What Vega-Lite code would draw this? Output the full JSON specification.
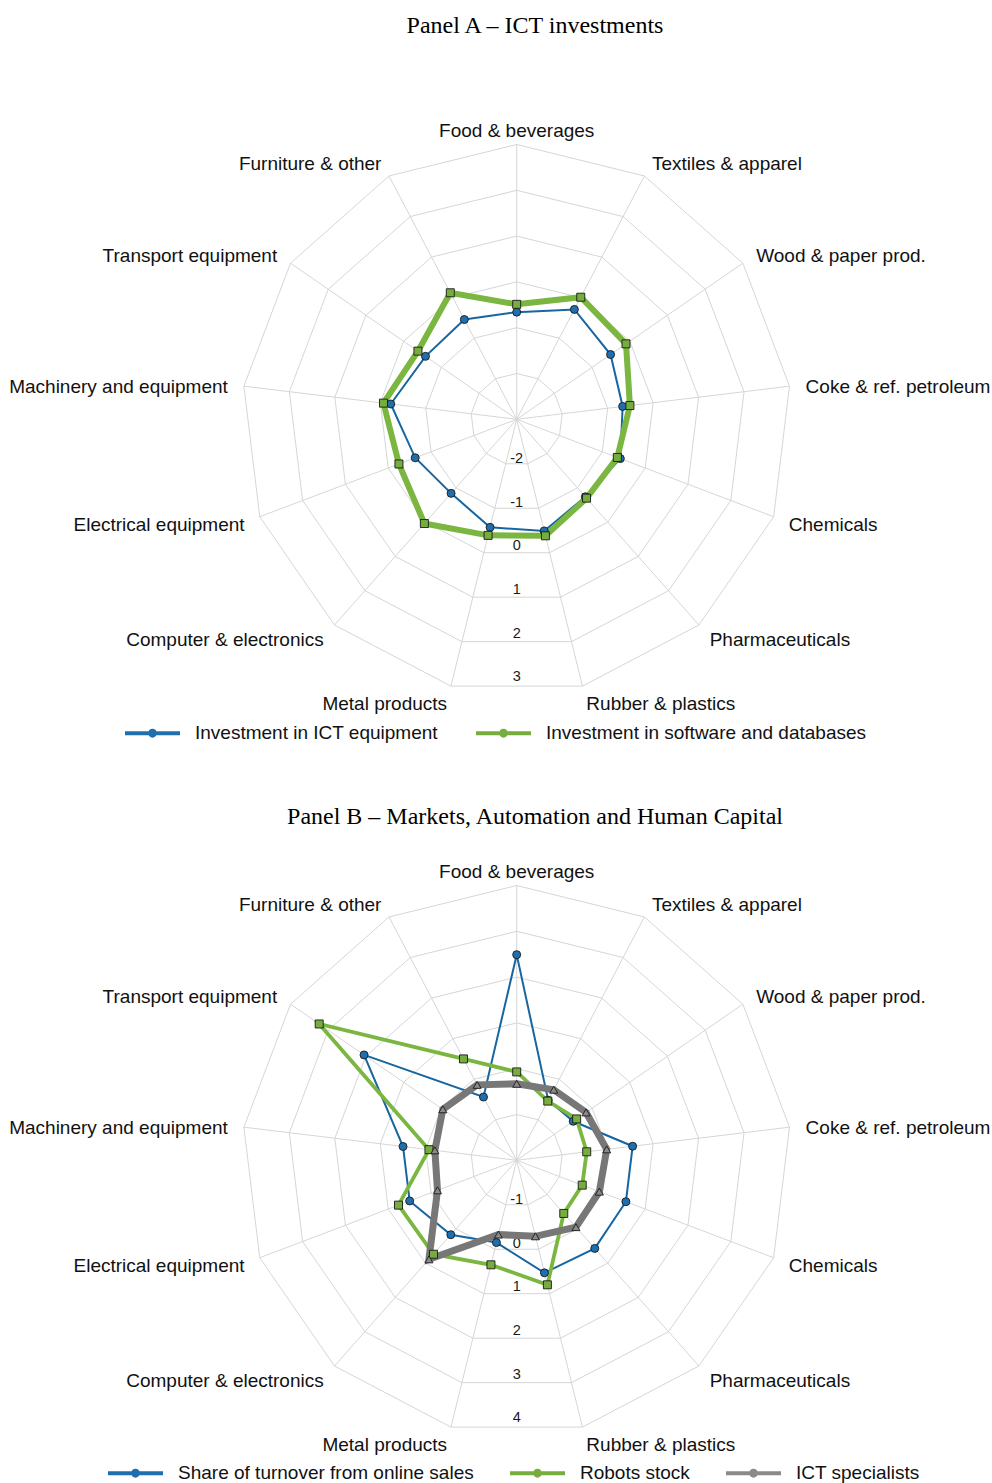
{
  "$schema": "https://vega.github.io/schema/vega-lite/v6.json",
  "background": "white",
  "padding": {"left": 0, "right": 0, "top": 14, "bottom": 0},
  "spacing": 34,
  "resolve": {
    "scale": {"color": "independent", "fill": "independent", "shape": "independent"},
    "legend": {"color": "independent", "fill": "independent", "shape": "independent"}
  },
  "config": {
    "view": {"stroke": null},
    "title": {"font": "Liberation Serif", "fontSize": 24, "fontWeight": "normal", "color": "#000000", "anchor": "middle", "dx": 39, "offset": 12.7},
    "legend": {
      "labelFont": "Liberation Sans", "labelFontSize": 19, "labelColor": "#111111", "labelLimit": 600, "labelOffset": 15, "padding": 0
    }
  },
  "datasets": {
    "sectors": [
      {"sector": "Food & beverages", "k": 0},
      {"sector": "Textiles & apparel", "k": 1},
      {"sector": "Wood & paper prod.", "k": 2},
      {"sector": "Coke & ref. petroleum", "k": 3},
      {"sector": "Chemicals", "k": 4},
      {"sector": "Pharmaceuticals", "k": 5},
      {"sector": "Rubber & plastics", "k": 6},
      {"sector": "Metal products", "k": 7},
      {"sector": "Computer & electronics", "k": 8},
      {"sector": "Electrical equipment", "k": 9},
      {"sector": "Machinery and equipment", "k": 10},
      {"sector": "Transport equipment", "k": 11},
      {"sector": "Furniture & other", "k": 12}
    ],
    "ticksA": [
      {"tick": -2, "k": [0,1,2,3,4,5,6,7,8,9,10,11,12]},
      {"tick": -1, "k": [0,1,2,3,4,5,6,7,8,9,10,11,12]},
      {"tick": 0, "k": [0,1,2,3,4,5,6,7,8,9,10,11,12]},
      {"tick": 1, "k": [0,1,2,3,4,5,6,7,8,9,10,11,12]},
      {"tick": 2, "k": [0,1,2,3,4,5,6,7,8,9,10,11,12]},
      {"tick": 3, "k": [0,1,2,3,4,5,6,7,8,9,10,11,12]}
    ],
    "ticksB": [
      {"tick": -1, "k": [0,1,2,3,4,5,6,7,8,9,10,11,12]},
      {"tick": 0, "k": [0,1,2,3,4,5,6,7,8,9,10,11,12]},
      {"tick": 1, "k": [0,1,2,3,4,5,6,7,8,9,10,11,12]},
      {"tick": 2, "k": [0,1,2,3,4,5,6,7,8,9,10,11,12]},
      {"tick": 3, "k": [0,1,2,3,4,5,6,7,8,9,10,11,12]},
      {"tick": 4, "k": [0,1,2,3,4,5,6,7,8,9,10,11,12]}
    ],
    "panelA": [
      {"series": "Investment in ICT equipment", "sector": "Food & beverages", "value": -0.66},
      {"series": "Investment in ICT equipment", "sector": "Textiles & apparel", "value": -0.29},
      {"series": "Investment in ICT equipment", "sector": "Wood & paper prod.", "value": -0.51},
      {"series": "Investment in ICT equipment", "sector": "Coke & ref. petroleum", "value": -0.67},
      {"series": "Investment in ICT equipment", "sector": "Chemicals", "value": -0.58},
      {"series": "Investment in ICT equipment", "sector": "Pharmaceuticals", "value": -0.74},
      {"series": "Investment in ICT equipment", "sector": "Rubber & plastics", "value": -0.49},
      {"series": "Investment in ICT equipment", "sector": "Metal products", "value": -0.57},
      {"series": "Investment in ICT equipment", "sector": "Computer & electronics", "value": -0.84},
      {"series": "Investment in ICT equipment", "sector": "Electrical equipment", "value": -0.63},
      {"series": "Investment in ICT equipment", "sector": "Machinery and equipment", "value": -0.23},
      {"series": "Investment in ICT equipment", "sector": "Transport equipment", "value": -0.58},
      {"series": "Investment in ICT equipment", "sector": "Furniture & other", "value": -0.54},
      {"series": "Investment in software and databases", "sector": "Food & beverages", "value": -0.49},
      {"series": "Investment in software and databases", "sector": "Textiles & apparel", "value": 0.01},
      {"series": "Investment in software and databases", "sector": "Wood & paper prod.", "value": -0.10},
      {"series": "Investment in software and databases", "sector": "Coke & ref. petroleum", "value": -0.51},
      {"series": "Investment in software and databases", "sector": "Chemicals", "value": -0.65},
      {"series": "Investment in software and databases", "sector": "Pharmaceuticals", "value": -0.70},
      {"series": "Investment in software and databases", "sector": "Rubber & plastics", "value": -0.38},
      {"series": "Investment in software and databases", "sector": "Metal products", "value": -0.39},
      {"series": "Investment in software and databases", "sector": "Computer & electronics", "value": 0.04},
      {"series": "Investment in software and databases", "sector": "Electrical equipment", "value": -0.25},
      {"series": "Investment in software and databases", "sector": "Machinery and equipment", "value": -0.07},
      {"series": "Investment in software and databases", "sector": "Transport equipment", "value": -0.38},
      {"series": "Investment in software and databases", "sector": "Furniture & other", "value": 0.12}
    ],
    "panelB": [
      {"series": "Share of turnover from online sales", "sector": "Food & beverages", "value": 2.49},
      {"series": "Share of turnover from online sales", "sector": "Textiles & apparel", "value": -0.52},
      {"series": "Share of turnover from online sales", "sector": "Wood & paper prod.", "value": -0.50},
      {"series": "Share of turnover from online sales", "sector": "Coke & ref. petroleum", "value": 0.55},
      {"series": "Share of turnover from online sales", "sector": "Chemicals", "value": 0.55},
      {"series": "Share of turnover from online sales", "sector": "Pharmaceuticals", "value": 0.57},
      {"series": "Share of turnover from online sales", "sector": "Rubber & plastics", "value": 0.53},
      {"series": "Share of turnover from online sales", "sector": "Metal products", "value": -0.15},
      {"series": "Share of turnover from online sales", "sector": "Computer & electronics", "value": 0.17},
      {"series": "Share of turnover from online sales", "sector": "Electrical equipment", "value": 0.50},
      {"series": "Share of turnover from online sales", "sector": "Machinery and equipment", "value": 0.50},
      {"series": "Share of turnover from online sales", "sector": "Transport equipment", "value": 2.05},
      {"series": "Share of turnover from online sales", "sector": "Furniture & other", "value": -0.44},
      {"series": "Robots stock", "sector": "Food & beverages", "value": -0.07},
      {"series": "Robots stock", "sector": "Textiles & apparel", "value": -0.54},
      {"series": "Robots stock", "sector": "Wood & paper prod.", "value": -0.41},
      {"series": "Robots stock", "sector": "Coke & ref. petroleum", "value": -0.46},
      {"series": "Robots stock", "sector": "Chemicals", "value": -0.47},
      {"series": "Robots stock", "sector": "Pharmaceuticals", "value": -0.45},
      {"series": "Robots stock", "sector": "Rubber & plastics", "value": 0.80},
      {"series": "Robots stock", "sector": "Metal products", "value": 0.35},
      {"series": "Robots stock", "sector": "Computer & electronics", "value": 0.74},
      {"series": "Robots stock", "sector": "Electrical equipment", "value": 0.76},
      {"series": "Robots stock", "sector": "Machinery and equipment", "value": -0.07},
      {"series": "Robots stock", "sector": "Transport equipment", "value": 3.24},
      {"series": "Robots stock", "sector": "Furniture & other", "value": 0.50},
      {"series": "ICT specialists", "sector": "Food & beverages", "value": -0.33},
      {"series": "ICT specialists", "sector": "Textiles & apparel", "value": -0.26},
      {"series": "ICT specialists", "sector": "Wood & paper prod.", "value": -0.16},
      {"series": "ICT specialists", "sector": "Coke & ref. petroleum", "value": -0.02},
      {"series": "ICT specialists", "sector": "Chemicals", "value": -0.07},
      {"series": "ICT specialists", "sector": "Pharmaceuticals", "value": -0.05},
      {"series": "ICT specialists", "sector": "Rubber & plastics", "value": -0.29},
      {"series": "ICT specialists", "sector": "Metal products", "value": -0.33},
      {"series": "ICT specialists", "sector": "Computer & electronics", "value": 0.89},
      {"series": "ICT specialists", "sector": "Electrical equipment", "value": -0.15},
      {"series": "ICT specialists", "sector": "Machinery and equipment", "value": -0.20},
      {"series": "ICT specialists", "sector": "Transport equipment", "value": -0.04},
      {"series": "ICT specialists", "sector": "Furniture & other", "value": -0.14}
    ]
  },
  "vconcat": [
    {
      "width": 992,
      "height": 720,
      "title": "Panel A – ICT investments",
      "encoding": {
        "x": {"field": "px", "type": "quantitative", "scale": {"domain": [-11.2817, 10.3777], "nice": false, "zero": false}, "axis": null},
        "y": {"field": "py", "type": "quantitative", "scale": {"domain": [-7.679, 8.0415], "nice": false, "zero": false}, "axis": null}
      },
      "layer": [
        {
          "data": {"name": "ticksA"},
          "transform": [
            {"flatten": ["k"]},
            {"calculate": "datum.tick + 3", "as": "r"},
            {"calculate": "2 * PI * datum.k / 13", "as": "t"},
            {"calculate": "datum.r * sin(datum.t)", "as": "px"},
            {"calculate": "datum.r * cos(datum.t)", "as": "py"}
          ],
          "mark": {"type": "line", "interpolate": "linear-closed", "color": "#d6d6d6", "strokeWidth": 1},
          "encoding": {"detail": {"field": "tick", "type": "nominal"}, "order": {"field": "k", "type": "quantitative"}}
        },
        {
          "data": {"name": "sectors"},
          "transform": [
            {"calculate": "2 * PI * datum.k / 13", "as": "t"},
            {"calculate": "0", "as": "px"},
            {"calculate": "0", "as": "py"},
            {"calculate": "6 * sin(datum.t)", "as": "sx"},
            {"calculate": "6 * cos(datum.t)", "as": "sy"}
          ],
          "mark": {"type": "rule", "color": "#d6d6d6", "strokeWidth": 1},
          "encoding": {"x2": {"field": "sx"}, "y2": {"field": "sy"}}
        },
        {
          "data": {"name": "ticksA"},
          "transform": [
            {"calculate": "datum.tick + 3", "as": "r"},
            {"calculate": "0", "as": "px"},
            {"calculate": "-(datum.r * 0.9533 - 0.116)", "as": "py"}
          ],
          "mark": {"type": "text", "font": "Liberation Sans", "fontSize": 14.5, "color": "#1a1a1a", "align": "center", "baseline": "middle", "dy": 1.5},
          "encoding": {"text": {"field": "tick", "type": "nominal"}}
        },
        {
          "data": {"name": "sectors"},
          "transform": [
            {"filter": "datum.k == 0"},
            {"calculate": "2 * PI * datum.k / 13", "as": "t"},
            {"calculate": "6.354 * sin(datum.t)", "as": "px"},
            {"calculate": "6.354 * cos(datum.t)", "as": "py"}
          ],
          "mark": {"type": "text", "font": "Liberation Sans", "fontSize": 19, "color": "#111111", "align": "center", "baseline": "middle", "dy": 2.5},
          "encoding": {"text": {"field": "sector", "type": "nominal"}}
        },
        {
          "data": {"name": "sectors"},
          "transform": [
            {"filter": "datum.k >= 1 && datum.k <= 6"},
            {"calculate": "2 * PI * datum.k / 13", "as": "t"},
            {"calculate": "6.354 * sin(datum.t)", "as": "px"},
            {"calculate": "6.354 * cos(datum.t)", "as": "py"}
          ],
          "mark": {"type": "text", "font": "Liberation Sans", "fontSize": 19, "color": "#111111", "align": "left", "baseline": "middle", "dy": 2.5},
          "encoding": {"text": {"field": "sector", "type": "nominal"}}
        },
        {
          "data": {"name": "sectors"},
          "transform": [
            {"filter": "datum.k >= 7"},
            {"calculate": "2 * PI * datum.k / 13", "as": "t"},
            {"calculate": "6.354 * sin(datum.t)", "as": "px"},
            {"calculate": "6.354 * cos(datum.t)", "as": "py"}
          ],
          "mark": {"type": "text", "font": "Liberation Sans", "fontSize": 19, "color": "#111111", "align": "right", "baseline": "middle", "dy": 2.5},
          "encoding": {"text": {"field": "sector", "type": "nominal"}}
        },
        {
          "data": {"name": "panelA"},
          "transform": [
            {"lookup": "sector", "from": {"data": {"name": "sectors"}, "key": "sector", "fields": ["k"]}},
            {"calculate": "datum.value + 3", "as": "r"},
            {"calculate": "2 * PI * datum.k / 13", "as": "t"},
            {"calculate": "datum.r * sin(datum.t)", "as": "px"},
            {"calculate": "datum.r * cos(datum.t)", "as": "py"}
          ],
          "layer": [
            {
              "mark": {"type": "line", "interpolate": "linear-closed"},
              "encoding": {
                "color": {"field": "series", "type": "nominal", "scale": {"domain": ["Investment in software and databases", "Investment in ICT equipment"], "range": ["#7ab640", "#1766a1"]}, "legend": null},
                "strokeWidth": {"condition": {"test": "datum.series === 'Investment in ICT equipment'", "value": 2}, "value": 6},
                "order": {"field": "k", "type": "quantitative"}
              }
            },
            {
              "mark": {"type": "point", "filled": true, "opacity": 1, "size": 64, "stroke": "#1a1a1a", "strokeWidth": 0.9,
                       "shape": "M-1,-0.07H1V0.07H-1Z M0.16,0A0.16,0.16 0 1 1 -0.16,0A0.16,0.16 0 1 1 0.16,0Z"},
              "encoding": {
                "fill": {
                  "field": "series", "type": "nominal",
                  "scale": {"domain": ["Investment in ICT equipment", "Investment in software and databases"], "range": ["#1f6fae", "#76ad3e"]},
                  "legend": {
                    "title": null, "orient": "none", "direction": "horizontal", "legendX": 125, "legendY": 654.5, "columnPadding": 38,
                    "symbolSize": 3025, "symbolStrokeWidth": 0,
                    "symbolType": "M-1,-0.07H1V0.07H-1Z M0.16,0A0.16,0.16 0 1 1 -0.16,0A0.16,0.16 0 1 1 0.16,0Z",
                    "encode": {
                      "symbols": {
                        "shape": {"value": "M-1,-0.07H1V0.07H-1Z M0.16,0A0.16,0.16 0 1 1 -0.16,0A0.16,0.16 0 1 1 0.16,0Z"},
                        "stroke": {"value": "transparent"}
                      }
                    }
                  }
                },
                "shape": {"field": "series", "type": "nominal", "scale": {"domain": ["Investment in software and databases", "Investment in ICT equipment"], "range": ["square", "circle"]}, "legend": null}
              }
            }
          ]
        }
      ]
    },
    {
      "width": 992,
      "height": 643,
      "title": "Panel B – Markets, Automation and Human Capital",
      "encoding": {
        "x": {"field": "px", "type": "quantitative", "scale": {"domain": [-11.2817, 10.3777], "nice": false, "zero": false}, "axis": null},
        "y": {"field": "py", "type": "quantitative", "scale": {"domain": [-7.0895, 6.9498], "nice": false, "zero": false}, "axis": null}
      },
      "layer": [
        {
          "data": {"name": "ticksB"},
          "transform": [
            {"flatten": ["k"]},
            {"calculate": "datum.tick + 2", "as": "r"},
            {"calculate": "2 * PI * datum.k / 13", "as": "t"},
            {"calculate": "datum.r * sin(datum.t)", "as": "px"},
            {"calculate": "datum.r * cos(datum.t)", "as": "py"}
          ],
          "mark": {"type": "line", "interpolate": "linear-closed", "color": "#d6d6d6", "strokeWidth": 1},
          "encoding": {"detail": {"field": "tick", "type": "nominal"}, "order": {"field": "k", "type": "quantitative"}}
        },
        {
          "data": {"name": "sectors"},
          "transform": [
            {"calculate": "2 * PI * datum.k / 13", "as": "t"},
            {"calculate": "0", "as": "px"},
            {"calculate": "0", "as": "py"},
            {"calculate": "6 * sin(datum.t)", "as": "sx"},
            {"calculate": "6 * cos(datum.t)", "as": "sy"}
          ],
          "mark": {"type": "rule", "color": "#d6d6d6", "strokeWidth": 1},
          "encoding": {"x2": {"field": "sx"}, "y2": {"field": "sy"}}
        },
        {
          "data": {"name": "ticksB"},
          "transform": [
            {"calculate": "datum.tick + 2", "as": "r"},
            {"calculate": "0", "as": "px"},
            {"calculate": "-(datum.r * 0.9533 - 0.116)", "as": "py"}
          ],
          "mark": {"type": "text", "font": "Liberation Sans", "fontSize": 14.5, "color": "#1a1a1a", "align": "center", "baseline": "middle", "dy": 1.5},
          "encoding": {"text": {"field": "tick", "type": "nominal"}}
        },
        {
          "data": {"name": "sectors"},
          "transform": [
            {"filter": "datum.k == 0"},
            {"calculate": "2 * PI * datum.k / 13", "as": "t"},
            {"calculate": "6.354 * sin(datum.t)", "as": "px"},
            {"calculate": "6.354 * cos(datum.t)", "as": "py"}
          ],
          "mark": {"type": "text", "font": "Liberation Sans", "fontSize": 19, "color": "#111111", "align": "center", "baseline": "middle", "dy": 2.5},
          "encoding": {"text": {"field": "sector", "type": "nominal"}}
        },
        {
          "data": {"name": "sectors"},
          "transform": [
            {"filter": "datum.k >= 1 && datum.k <= 6"},
            {"calculate": "2 * PI * datum.k / 13", "as": "t"},
            {"calculate": "6.354 * sin(datum.t)", "as": "px"},
            {"calculate": "6.354 * cos(datum.t)", "as": "py"}
          ],
          "mark": {"type": "text", "font": "Liberation Sans", "fontSize": 19, "color": "#111111", "align": "left", "baseline": "middle", "dy": 2.5},
          "encoding": {"text": {"field": "sector", "type": "nominal"}}
        },
        {
          "data": {"name": "sectors"},
          "transform": [
            {"filter": "datum.k >= 7"},
            {"calculate": "2 * PI * datum.k / 13", "as": "t"},
            {"calculate": "6.354 * sin(datum.t)", "as": "px"},
            {"calculate": "6.354 * cos(datum.t)", "as": "py"}
          ],
          "mark": {"type": "text", "font": "Liberation Sans", "fontSize": 19, "color": "#111111", "align": "right", "baseline": "middle", "dy": 2.5},
          "encoding": {"text": {"field": "sector", "type": "nominal"}}
        },
        {
          "data": {"name": "panelB"},
          "transform": [
            {"lookup": "sector", "from": {"data": {"name": "sectors"}, "key": "sector", "fields": ["k"]}},
            {"calculate": "datum.value + 2", "as": "r"},
            {"calculate": "2 * PI * datum.k / 13", "as": "t"},
            {"calculate": "datum.r * sin(datum.t)", "as": "px"},
            {"calculate": "datum.r * cos(datum.t)", "as": "py"}
          ],
          "layer": [
            {
              "mark": {"type": "line", "interpolate": "linear-closed"},
              "encoding": {
                "color": {"field": "series", "type": "nominal", "scale": {"domain": ["ICT specialists", "Robots stock", "Share of turnover from online sales"], "range": ["#777777", "#7ab640", "#1766a1"]}, "legend": null},
                "strokeWidth": {"condition": [{"test": "datum.series === 'Share of turnover from online sales'", "value": 2}, {"test": "datum.series === 'Robots stock'", "value": 3.8}], "value": 7},
                "order": {"field": "k", "type": "quantitative"}
              }
            },
            {
              "mark": {"type": "point", "filled": true, "opacity": 1, "size": 64, "stroke": "#1a1a1a", "strokeWidth": 0.9,
                       "shape": "M-1,-0.07H1V0.07H-1Z M0.16,0A0.16,0.16 0 1 1 -0.16,0A0.16,0.16 0 1 1 0.16,0Z"},
              "encoding": {
                "fill": {
                  "field": "series", "type": "nominal",
                  "scale": {"domain": ["Share of turnover from online sales", "Robots stock", "ICT specialists"], "range": ["#1f6fae", "#76ad3e", "#8a8a8a"]},
                  "legend": {
                    "title": null, "orient": "none", "direction": "horizontal", "legendX": 108, "legendY": 603.5, "columnPadding": 36,
                    "symbolSize": 3025, "symbolStrokeWidth": 0,
                    "symbolType": "M-1,-0.07H1V0.07H-1Z M0.16,0A0.16,0.16 0 1 1 -0.16,0A0.16,0.16 0 1 1 0.16,0Z",
                    "encode": {
                      "symbols": {
                        "shape": {"value": "M-1,-0.07H1V0.07H-1Z M0.16,0A0.16,0.16 0 1 1 -0.16,0A0.16,0.16 0 1 1 0.16,0Z"},
                        "stroke": {"value": "transparent"}
                      }
                    }
                  }
                },
                "shape": {"field": "series", "type": "nominal", "scale": {"domain": ["Robots stock", "ICT specialists", "Share of turnover from online sales"], "range": ["square", "triangle-up", "circle"]}, "legend": null}
              }
            }
          ]
        }
      ]
    }
  ]
}
